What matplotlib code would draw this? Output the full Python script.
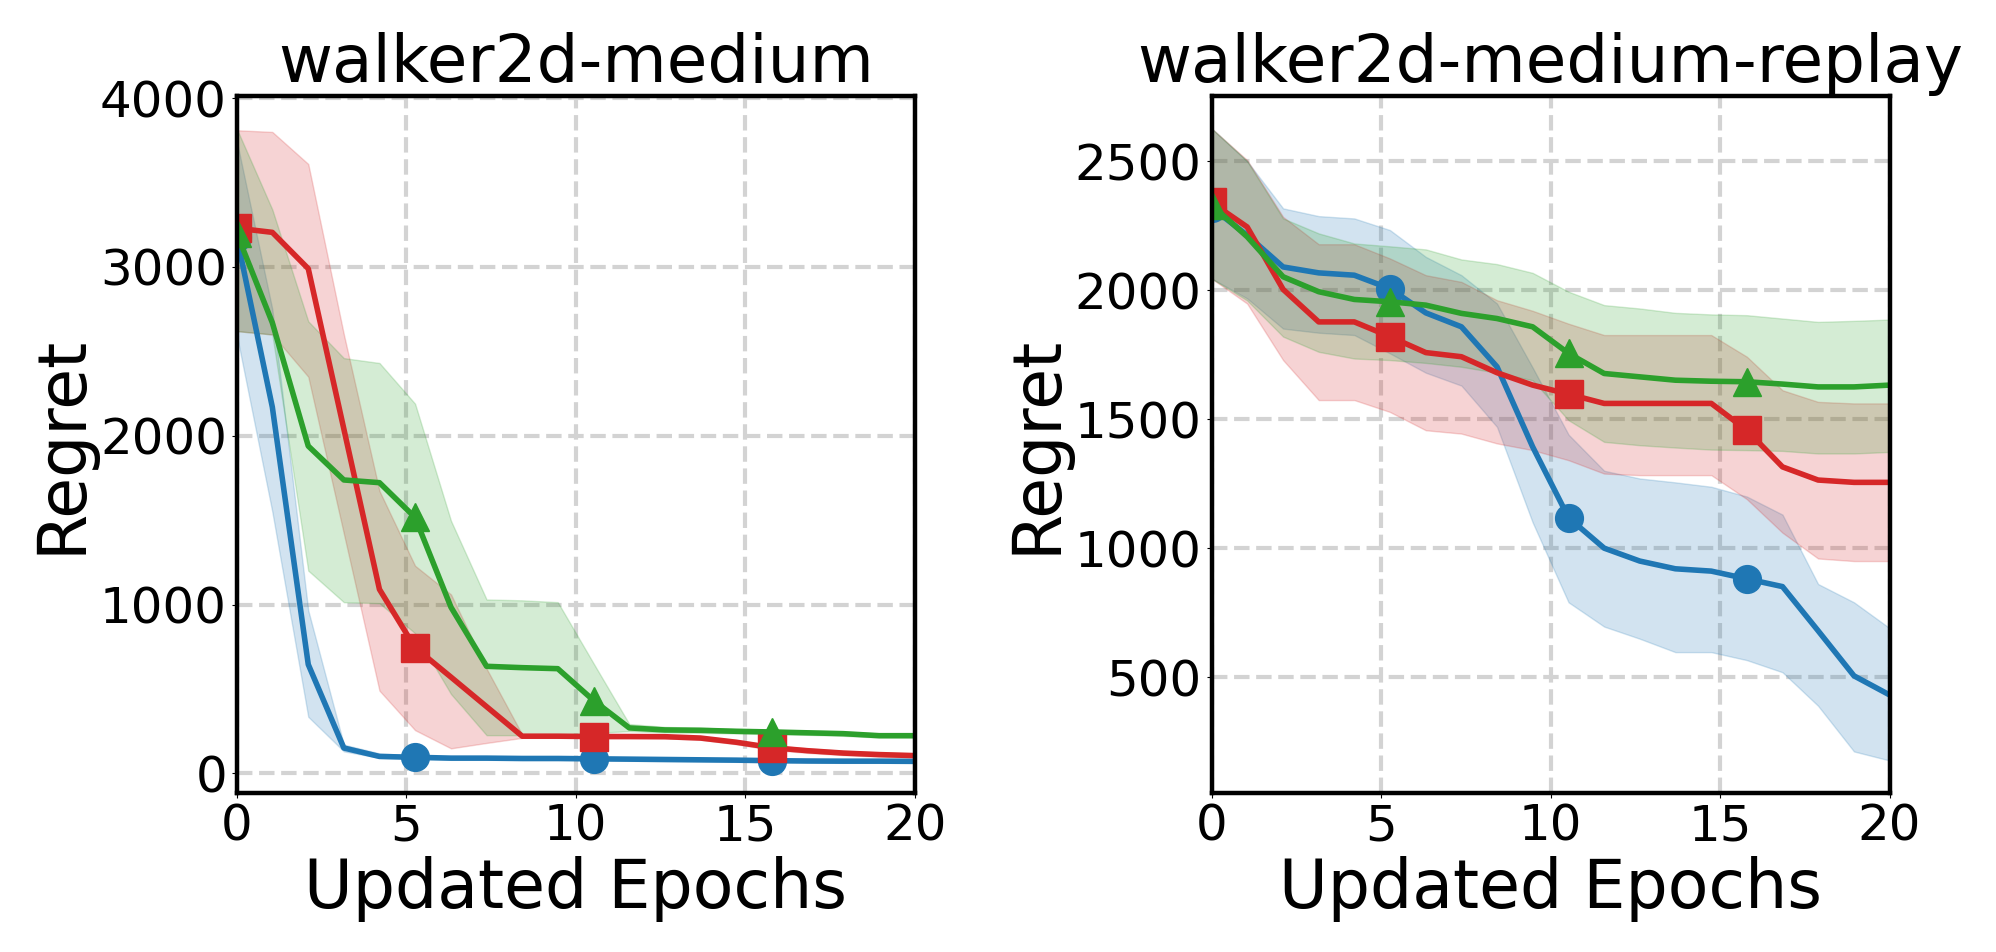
import numpy as np
import matplotlib
matplotlib.use('Agg')
import matplotlib.pyplot as plt

# x positions of the recorded points (20 evaluations over 20 epochs)
epochs = [0, 1.05, 2.11, 3.16, 4.21, 5.26, 6.32, 7.37, 8.42, 9.47,
          10.53, 11.58, 12.63, 13.68, 14.74, 15.79, 16.84, 17.89, 18.95, 20]

# ---- walker2d-medium ----
med_blue = [3180, 2170, 645, 150, 100, 95, 90, 90, 88, 88,
            86, 84, 82, 80, 78, 75, 73, 72, 72, 71]
med_blue_lo = [2600, 1550, 335, 130, 92, 85, 80, 80, 78, 78,
               76, 74, 72, 70, 68, 65, 63, 62, 62, 61]
med_blue_hi = [3750, 2750, 965, 170, 118, 105, 100, 100, 98, 98,
               96, 94, 92, 90, 88, 85, 83, 82, 82, 81]

med_red = [3230, 3205, 2990, 2040, 1090, 745, 570, 395, 220, 220,
           218, 218, 217, 209, 184, 152, 134, 120, 111, 105]
med_red_lo = [2620, 2600, 2350, 1420, 490, 256, 148, 180, 210, 210,
              208, 207, 207, 199, 172, 138, 121, 108, 99, 93]
med_red_hi = [3810, 3800, 3610, 2600, 1673, 1230, 1060, 620, 230, 229,
              228, 228, 227, 220, 197, 165, 148, 133, 124, 117]

med_green = [3200, 2670, 1939, 1738, 1722, 1516, 984, 634, 626, 620,
             431, 269, 257, 255, 249, 245, 240, 235, 223, 223]
med_green_lo = [2620, 2600, 1201, 1014, 1008, 830, 470, 226, 226, 228,
                239, 250, 242, 240, 236, 232, 228, 222, 212, 212]
med_green_hi = [3820, 3340, 2678, 2460, 2431, 2190, 1496, 1030, 1025, 1014,
                650, 292, 275, 270, 262, 258, 252, 248, 236, 236]

# ---- walker2d-medium-replay ----
rep_blue = [2320, 2213, 2090, 2067, 2058, 2006, 1912, 1858, 1703, 1393,
            1118, 1000, 950, 920, 911, 881, 851, 680, 505, 431]
rep_blue_lo = [2045, 1968, 1851, 1835, 1826, 1755, 1680, 1630, 1470, 1100,
               790, 696, 649, 597, 597, 566, 519, 389, 212, 177]
rep_blue_hi = [2627, 2500, 2317, 2287, 2278, 2233, 2129, 2058, 1948, 1700,
               1440, 1300, 1270, 1255, 1238, 1200, 1130, 861, 790, 690]

rep_red = [2340, 2245, 2003, 1877, 1877, 1820, 1758, 1742, 1680, 1632,
           1597, 1561, 1561, 1561, 1561, 1457, 1315, 1264, 1255, 1255]
rep_red_lo = [2045, 1948, 1729, 1574, 1574, 1528, 1457, 1444, 1406, 1380,
              1341, 1289, 1283, 1283, 1283, 1190, 1060, 960, 950, 950]
rep_red_hi = [2627, 2504, 2284, 2178, 2178, 2123, 2058, 2032, 1961, 1920,
              1870, 1826, 1826, 1826, 1826, 1742, 1612, 1567, 1561, 1561]

rep_green = [2330, 2207, 2052, 1994, 1964, 1955, 1942, 1910, 1890, 1858,
             1755, 1677, 1664, 1651, 1647, 1645, 1636, 1625, 1625, 1632]
rep_green_lo = [2045, 1960, 1820, 1761, 1735, 1729, 1718, 1703, 1680, 1651,
                1496, 1412, 1399, 1390, 1382, 1380, 1377, 1367, 1367, 1373]
rep_green_hi = [2627, 2500, 2278, 2220, 2181, 2170, 2158, 2119, 2101, 2067,
                1994, 1942, 1929, 1912, 1906, 1903, 1890, 1877, 1881, 1886]

titles = ['walker2d-medium', 'walker2d-medium-replay']
xticks = [0, 5, 10, 15, 20]
yticks = [[0, 1000, 2000, 3000, 4000], [500, 1000, 1500, 2000, 2500]]
ylims = [(-115, 4012), (52, 2752)]

panels = [
    [(med_blue, med_blue_lo, med_blue_hi),
     (med_red, med_red_lo, med_red_hi),
     (med_green, med_green_lo, med_green_hi)],
    [(rep_blue, rep_blue_lo, rep_blue_hi),
     (rep_red, rep_red_lo, rep_red_hi),
     (rep_green, rep_green_lo, rep_green_hi)],
]
colors = ['tab:blue', 'tab:red', 'tab:green']
markers = ['o', 's', '^']

fig = plt.figure(figsize=(19.96, 9.52), dpi=100)
boxes = [[0.1186, 0.1673, 0.3397, 0.7317], [0.607, 0.1673, 0.3397, 0.7317]]

x = np.array(epochs)
for k in range(2):
    ax = fig.add_axes(boxes[k])
    for (mean, lo, hi), c, m in zip(panels[k], colors, markers):
        ax.fill_between(x, lo, hi, color=c, alpha=0.2)
        ax.plot(x, mean, color=c, linewidth=4.0, marker=m,
                markersize=20, markevery=5)
    ax.set_xlim(0, 20)
    ax.set_ylim(*ylims[k])
    ax.set_xticks(xticks)
    ax.set_yticks(yticks[k])
    ax.grid(True, linestyle='--', color='lightgray', linewidth=3.0)
    ax.set_axisbelow(True)
    for s in ax.spines.values():
        s.set_linewidth(3.2)
    ax.tick_params(labelsize=36)
    ax.set_title(titles[k], fontsize=47.5)
    ax.set_xlabel('Updated Epochs', fontsize=48)
    ax.set_ylabel('Regret', fontsize=48)

fig.savefig('out.png', dpi=100)
